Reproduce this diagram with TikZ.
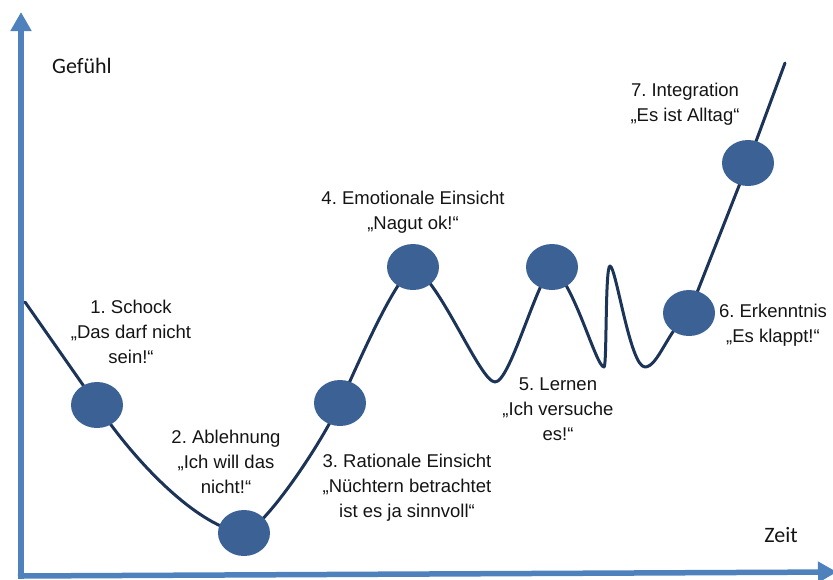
\documentclass[tikz,border=0pt]{standalone}
\usepackage{fontspec}
\setmainfont{Liberation Sans}
\newfontfamily\axisfont{Carlito}
\usetikzlibrary{arrows.meta,shapes.geometric}
\definecolor{axisblue}{RGB}{79,129,189}
\definecolor{dotblue}{RGB}{60,97,148}
\definecolor{curvenavy}{RGB}{28,52,88}
\definecolor{txt}{RGB}{20,20,20}
\tikzset{
  axisline/.style={draw=axisblue, line width=5.5pt, -{Triangle[width=20pt,length=19pt]}},
  curveline/.style={draw=curvenavy, line width=3pt, line join=round, line cap=round},
  stagedot/.style={ellipse, fill=dotblue, minimum width=52pt, minimum height=46pt, inner sep=0pt},
  lbl/.style={text=txt, align=center, inner sep=0pt, font=\frenchspacing\fontsize{18.5}{25}\selectfont},
  axlbl/.style={text=txt, inner sep=0pt, font=\axisfont\fontsize{22}{26}\selectfont}
}
\begin{document}
\begin{tikzpicture}[x=1pt,y=-1pt]
\useasboundingbox (0,0) rectangle (833,579);
% axes
\coordinate (yb) at (21,579);
\coordinate (yt) at (21,12);
\coordinate (xl) at (18,576);
\coordinate (xr) at (837,572);
\draw[axisline] (yb) -- (yt);
\draw[axisline] (xl) -- (xr);
\node[axlbl] (gef) at (82,66) {Gefühl};
\node[axlbl] (zeit) at (781,535) {Zeit};
% curve points
\coordinate (p0) at (25,302);
\coordinate (c1) at (97,405);
\coordinate (c2) at (244,533);
\coordinate (c3) at (340,403);
\coordinate (c4) at (413,267);
\coordinate (v1) at (495,382);
\coordinate (c5) at (552,267);
\coordinate (v2) at (604,367);
\coordinate (sp) at (610,266);
\coordinate (v3) at (645,367);
\coordinate (c6) at (689,313);
\coordinate (c7) at (748,163);
\coordinate (pe) at (785,63);
\draw[curveline] (p0) -- (c1)
  .. controls (137,465) and (200,528) .. (c2)
  .. controls (262,530) and (318,450) .. (c3)
  .. controls (362,355) and (392,285) .. (c4)
  .. controls (440,280) and (480,382) .. (v1)
  .. controls (510,382) and (535,285) .. (c5)
  .. controls (575,285) and (596,367) .. (v2)
  .. controls (607,367) and (605,266) .. (sp)
  .. controls (616,266) and (630,367) .. (v3)
  .. controls (658,367) and (668,330) .. (c6)
  -- (c7) -- (pe);
% stage dots
\node[stagedot] (d1) at (c1) {};
\node[stagedot] (d2) at (c2) {};
\node[stagedot] (d3) at (c3) {};
\node[stagedot] (d4) at (c4) {};
\node[stagedot] (d5) at (c5) {};
\node[stagedot] (d6) at (c6) {};
\node[stagedot] (d7) at (c7) {};
% labels
\node[lbl] (l1) at (131,332) {1. Schock\\„Das darf nicht\\sein!“};
\node[lbl] (l2) at (226,462) {2. Ablehnung\\„Ich will das\\nicht!“};
\node[lbl] (l3) at (407,488) {3. Rationale Einsicht\\„Nüchtern betrachtet\\ist es ja sinnvoll“};
\node[lbl] (l4) at (413,212) {4. Emotionale Einsicht\\„Nagut ok!“};
\node[lbl] (l5) at (558,409) {5. Lernen\\„Ich versuche\\es!“};
\node[lbl] (l6) at (773,325) {6. Erkenntnis\\„Es klappt!“};
\node[lbl] (l7) at (685,104) {7. Integration\\„Es ist Alltag“};
\end{tikzpicture}
\end{document}
